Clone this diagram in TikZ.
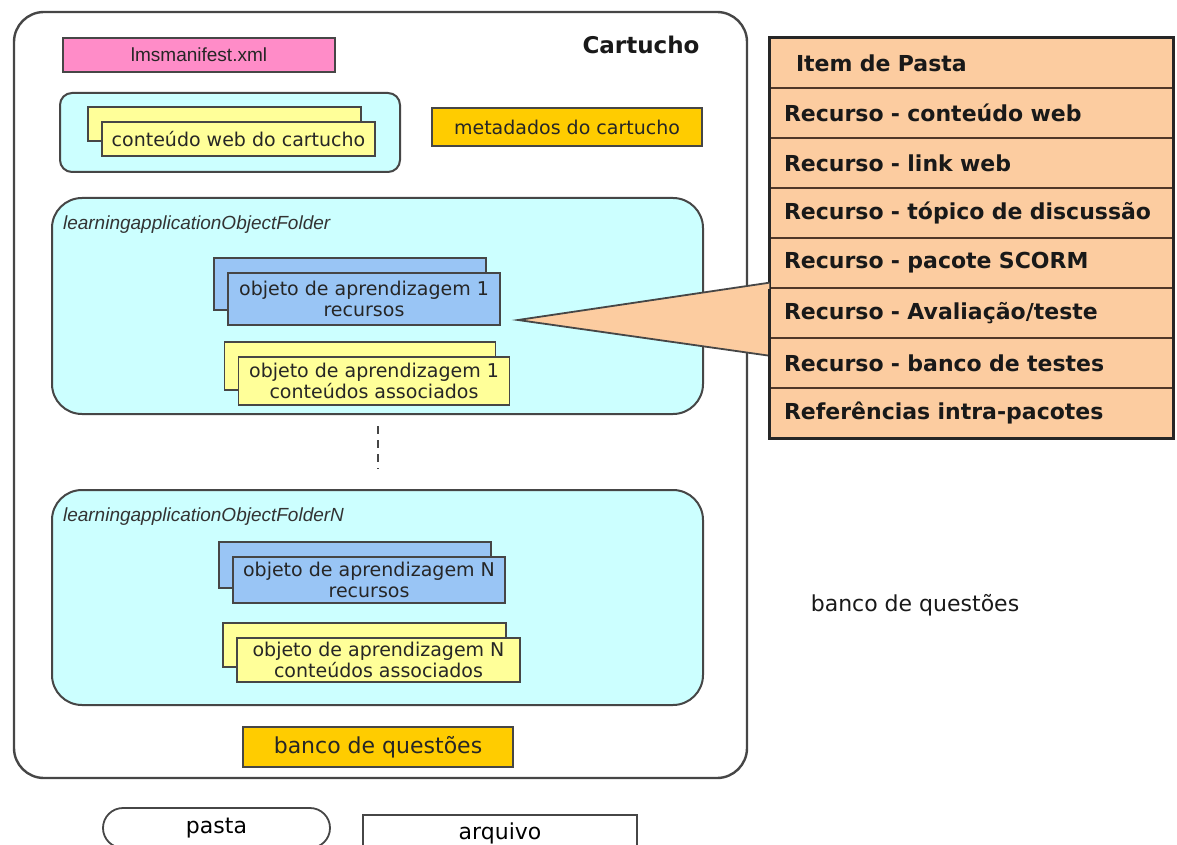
\documentclass[tikz,border=0pt]{standalone}
\usepackage{fontspec}
\setmainfont{DejaVu Sans}
\newfontfamily\arialfont{Liberation Sans}
\usetikzlibrary{shadows}

\definecolor{linegray}{RGB}{70,70,70}
\definecolor{pastacyan}{RGB}{204,255,255}
\definecolor{manifestpink}{RGB}{255,140,200}
\definecolor{webyellow}{RGB}{255,255,153}
\definecolor{objblue}{RGB}{153,197,245}
\definecolor{metaorange}{RGB}{255,204,0}
\definecolor{itempeach}{RGB}{252,204,160}
\definecolor{itemline}{RGB}{80,55,40}

\begin{document}
\begin{tikzpicture}[x=0.5pt,y=-0.5pt,
		pasta/.style={draw=linegray, line width=1pt, fill=pastacyan, rounded corners=15pt},
		arquivo/.style={draw=linegray, line width=0.9pt, inner sep=0pt, text=black!85,
			font=\fontsize{9.5}{10.5}\selectfont},
		stackblue/.style={arquivo, align=center, fill=objblue,
			copy shadow={shadow xshift=-7pt, shadow yshift=7.5pt, draw=linegray, fill=objblue}},
		stackyellow/.style={arquivo, align=center, fill=webyellow,
			copy shadow={shadow xshift=-7pt, shadow yshift=7.5pt, draw=linegray, fill=webyellow}},
		itemrow/.style={draw=itemline, line width=0.7pt, fill=itempeach, anchor=center,
			minimum height=25pt, text width=187.5pt, inner xsep=7pt, align=left,
			font=\fontsize{11}{13}\selectfont\bfseries, text=black!90}]
	\useasboundingbox (0,0) rectangle (1177,845);
	\clip (0,0) rectangle (1177,845);

	% cartucho
	\node[draw=linegray, line width=1.2pt, rounded corners=15pt, fill=white,
		minimum width=366.5pt, minimum height=383pt] (cartucho) at (380.5,395) {};
	\node[font=\fontsize{11.5}{13}\selectfont\bfseries, text=black!90] (cartuchoLabel) at (641,45) {Cartucho};
	\node[arquivo, fill=manifestpink, minimum width=136pt, minimum height=17pt,
		font=\arialfont\fontsize{9.5}{11}\selectfont] (manifest) at (199,55) {lmsmanifest.xml};
	\node[pasta, rounded corners=6pt, minimum width=170pt, minimum height=39.5pt] (webFolder) at (230,132.5) {};
	\node[stackyellow, minimum width=136.5pt, minimum height=17pt] (webContent) at (238.5,139) {conteúdo web do cartucho};
	\node[arquivo, fill=metaorange, minimum width=135pt, minimum height=19pt] (metadata) at (567,127) {metadados do cartucho};

	% pasta 1
	\node[pasta, minimum width=325.5pt, minimum height=108pt] (folder1) at (377.5,306) {};
	\node[anchor=west, font=\arialfont\itshape\fontsize{9.5}{11}\selectfont, text=black!80] (folder1Label) at (56,225) {learningapplicationObjectFolder};
	\node[stackblue, minimum width=136pt, minimum height=26pt] (res1) at (364,299) {objeto de aprendizagem 1\\recursos};
	\node[stackyellow, minimum width=135.5pt, minimum height=24pt] (assoc1) at (374,381) {objeto de aprendizagem 1\\conteúdos associados};

	% pasta N
	\node[pasta, minimum width=325.5pt, minimum height=107.5pt] (folderN) at (377.5,597.5) {};
	\node[anchor=west, font=\arialfont\itshape\fontsize{9.5}{11}\selectfont, text=black!80] (folderNLabel) at (56,517) {learningapplicationObjectFolderN};
	\node[stackblue, minimum width=136pt, minimum height=23pt] (resN) at (369,580) {objeto de aprendizagem N\\recursos};
	\node[stackyellow, minimum width=141.5pt, minimum height=22pt] (assocN) at (378.5,660) {objeto de aprendizagem N\\conteúdos associados};

	\draw[linegray, line width=1pt, dash pattern=on 4pt off 3pt, shorten <=5.5pt, shorten >=10pt] (folder1.south) -- (folderN.north);

	\node[arquivo, fill=metaorange, minimum width=135pt, minimum height=20pt,
		font=\fontsize{11}{13}\selectfont] (bank) at (378,747) {banco de questões};

	% item de pasta
	\node[itemrow] (row0) at (971.5,63) {\hspace{6pt}Item de Pasta};
	\foreach \txt [count=\i] in {Recurso - conteúdo web, Recurso - link web,
		Recurso - tópico de discussão, Recurso - pacote SCORM, Recurso - Avaliação/teste,
		Recurso - banco de testes, Referências intra-pacotes}
		\node[itemrow] (row\i) at (971.5,63+50*\i) {\txt};
	\draw[black!85, line width=1.6pt] (row0.north west) rectangle (row7.south east);

	\coordinate (calloutTip) at (518,320);
	\filldraw[fill=itempeach, draw=linegray, line width=0.9pt]
		([yshift=3pt]row4.south west) -- (calloutTip) -- ([yshift=-8.5pt]row5.south west);
	\draw[black!85, line width=1.6pt] (row4.south west) -- (row6.south west);

	\node[font=\fontsize{11}{13}\selectfont, text=black!90] (bankText) at (915,605) {banco de questões};

	% legenda
	\node[draw=linegray, line width=0.9pt, rounded corners=10pt, minimum width=113.5pt, minimum height=20pt,
		font=\fontsize{11}{13}\selectfont] (legendFolder) at (216.5,828) {pasta};
	\node[draw=linegray, line width=0.9pt, minimum width=137pt, minimum height=18pt,
		font=\fontsize{11}{13}\selectfont] (legendFile) at (500,833) {arquivo};
\end{tikzpicture}
\end{document}
